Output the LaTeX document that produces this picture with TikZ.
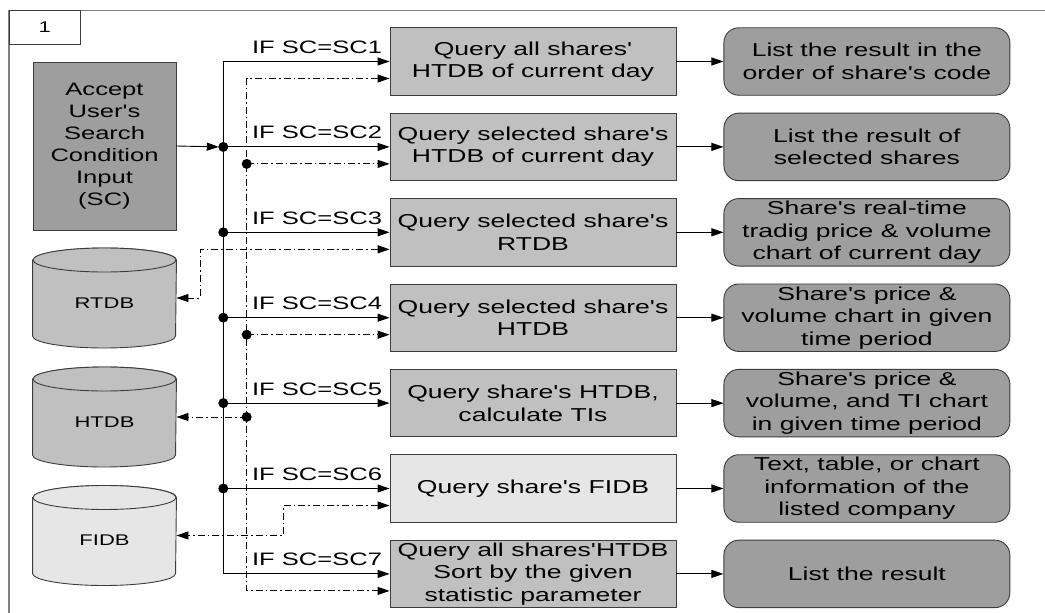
\documentclass[tikz,border=0pt]{standalone}
\usepackage{fontspec}
\setmainfont{Liberation Sans}[FakeStretch=1.42,Ligatures=TeXOff]
\usetikzlibrary{arrows.meta,positioning}
\definecolor{qgray}{RGB}{192,192,192}
\definecolor{rgray}{RGB}{158,158,158}
\definecolor{lgray}{RGB}{230,230,230}
\definecolor{edge}{RGB}{60,60,60}
\definecolor{framegray}{RGB}{128,128,128}
\newcommand\boxfont{\fontsize{18.7pt}{22.5pt}\selectfont}
\newcommand\condfont{\fontsize{18pt}{22pt}\selectfont}
\newcommand\dbfont{\fontsize{15.5pt}{18pt}\selectfont}
% cylinder drawn round an empty node: name, fill, text
\newcommand\dbshape[3]{%
  \draw[draw=edge,fill=#2] ([yshift=38pt]#1.west) -- ([yshift=-38pt]#1.west)
    arc[start angle=180,end angle=360,x radius=71.5pt,y radius=12pt]
    -- ([yshift=38pt]#1.east)
    arc[start angle=0,end angle=180,x radius=71.5pt,y radius=12pt] -- cycle;
  \draw[draw=edge,fill=#2] ([yshift=38pt]#1.center) ellipse[x radius=71.5pt,y radius=12pt];
  \node[font=\dbfont] (#1 text) at ([yshift=-5pt]#1.center) {#3};}

\begin{document}
\begin{tikzpicture}[x=1pt,y=-1pt,>={Triangle[length=12pt,width=8pt]},line width=0.9pt,
          qbox/.style={draw=edge,fill=qgray,minimum width=286pt,minimum height=67.5pt,inner sep=0pt,align=center,font=\boxfont},
          rbox/.style={qbox,fill=rgray,rounded corners=15pt},
          inbox/.style={draw=edge,fill=rgray,minimum width=143pt,minimum height=168pt,inner sep=0pt,align=center,font=\condfont},
          cond/.style={font=\condfont,inner sep=0pt,anchor=base east},
          db/.style={minimum width=143pt,minimum height=100pt,inner sep=0pt},
          dd/.style={dash pattern=on 7pt off 3pt on 1.5pt off 3pt}]
        \useasboundingbox (0,0) rectangle (1045,613);
        \draw[framegray,line width=1.5pt] (9,613) -- (9,10.7) -- (1045,10.7);
        \node[draw=edge,minimum width=71.7pt,minimum height=33.6pt,inner sep=0pt,font=\dbfont] (tab) at (44.85,27.5) {1};
        \node[inbox] (accept) at (104.5,146) {Accept\\User's\\Search\\Condition\\Input\\(SC)};
        % queries
        \node[qbox] (q1) at (533,61.5) {Query all shares'\\HTDB of current day};
        \node[qbox,below=17pt of q1] (q2) {Query selected share's\\HTDB of current day};
        \node[qbox,below=17pt of q2] (q3) {Query selected share's\\RTDB};
        \node[qbox,below=17pt of q3] (q4) {Query selected share's\\HTDB};
        \node[qbox,below=17pt of q4] (q5) {Query share's HTDB,\\calculate TIs};
        \node[qbox,fill=lgray,below=17pt of q5] (q6) {Query share's FIDB};
        \node[qbox,below=17pt of q6] (q7) {Query all shares'HTDB\\Sort by the given\\statistic parameter};
        % results
        \node[rbox,right=47pt of q1] (r1) {List the result in the\\order of share's code};
        \node[rbox,right=47pt of q2] (r2) {List the result of\\selected shares};
        \node[rbox,right=47pt of q3] (r3) {Share's real-time\\tradig price \& volume\\chart of current day};
        \node[rbox,right=47pt of q4] (r4) {Share's price \&\\volume chart in given\\time period};
        \node[rbox,right=47pt of q5] (r5) {Share's price \&\\volume, and TI chart\\in given time period};
        \node[rbox,right=47pt of q6] (r6) {Text, table, or chart\\information of the\\listed company};
        \node[rbox,right=47pt of q7] (r7) {List the result};
        % databases
        \node[db] (rtdb) at (104.5,298) {};
        \dbshape{rtdb}{qgray}{RTDB}
        \node[db] (htdb) at (104.5,417) {};
        \dbshape{htdb}{qgray}{HTDB}
        \node[db] (fidb) at (104.5,535.5) {};
        \dbshape{fidb}{lgray}{FIDB}
        \foreach \i in {1,...,7} {
          \node[cond] (l\i) at ([xshift=-7pt,yshift=8pt]q\i.west) {IF SC=SC\i};
          \coordinate (d\i) at ([yshift=-17pt]q\i.west);
          \draw[->] (q\i) -- (r\i);
        }
        \coordinate (bus) at (223.3,0);
        \coordinate (dbus) at (246.7,0);
        \coordinate (j2) at (bus |- q2.west);
        % condition bus
        \draw[->] (accept.east) -- ([xshift=-4.5pt]j2);
        \draw[<->] (q1.west) -| (bus |- q7.west) -- (q7.west);
        \foreach \i in {2,...,6} {
          \fill (bus |- q\i.west) circle (5pt);
          \draw[->] (bus |- q\i.west) -- (q\i.west);
        }
        % data bus
        \draw[dd,<->] (d1) -| (dbus |- d7) -- (d7);
        \foreach \i in {2,4} {
          \fill (dbus |- d\i) circle (5pt);
          \draw[dd,->] (dbus |- d\i) -- (d\i);
        }
        \fill (dbus |- htdb.east) circle (5pt);
        \draw[dd,->] (dbus |- htdb.east) -- (htdb.east);
        \draw[dd,<->] (d3) -| ([xshift=24pt]rtdb.east) -- (rtdb.east);
        \draw[dd,<->] (d6) -| ([xshift=107pt]fidb.east) -- (fidb.east);
      \end{tikzpicture}
\end{document}
